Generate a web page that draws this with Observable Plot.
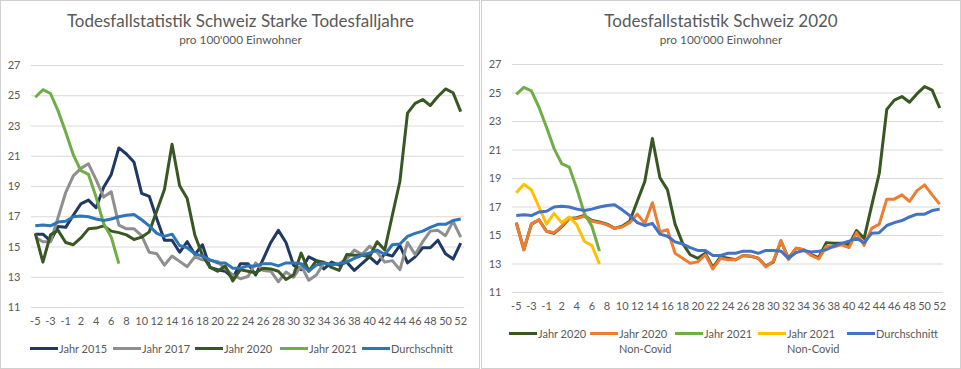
<!DOCTYPE html>
<html><head><meta charset="utf-8">
<script src="https://cdn.jsdelivr.net/npm/d3@7"></script>
<script src="https://cdn.jsdelivr.net/npm/@observablehq/plot@0.6"></script>
<style>
body{margin:0;background:#fff;font-family:Lato,sans-serif;}
#root{position:relative;width:961px;height:369px;overflow:hidden;background:#fff;}
.panel{position:absolute;top:0;height:369px;box-sizing:border-box;border:1px solid #d0d0d0;}
.abs{position:absolute;}
.title{position:absolute;text-align:center;color:#595959;font-size:17px;line-height:17px;white-space:nowrap;}
.sub{position:absolute;text-align:center;color:#595959;font-size:11.8px;line-height:12px;white-space:nowrap;}
.leg{position:absolute;display:flex;align-items:flex-start;color:#595959;font-size:11px;line-height:15px;white-space:nowrap;}
.sw{width:28px;height:3px;margin-top:6px;margin-right:1px;}
</style></head>
<body><div id="root">
<div class="panel" style="left:0;width:480px;"></div>
<div class="panel" style="left:481px;width:480px;"></div>
<div class="title" style="left:0;width:481px;top:12px;">Todesfallstatistik Schweiz Starke Todesfalljahre</div>
<div class="sub" style="left:0;width:481px;top:34px;">pro 100'000 Einwohner</div>
<div class="title" style="left:481px;width:480px;top:12px;">Todesfallstatistik Schweiz 2020</div>
<div class="sub" style="left:481px;width:480px;top:34px;">pro 100'000 Einwohner</div>
<div id="plotL" class="abs" style="left:0;top:50px;"></div>
<div id="plotR" class="abs" style="left:481px;top:50px;"></div>
</div>
<script>
const weeks = [-5,-4,-3,-2,-1,1,2,3,4,5,6,7,8,9,10,11,12,13,14,15,16,17,18,19,20,21,22,23,24,25,26,27,28,29,30,31,32,33,34,35,36,37,38,39,40,41,42,43,44,45,46,47,48,49,50,51,52];
const xTickLabels = [-5,-3,-1,2,4,6,8,10,12,14,16,18,20,22,24,26,28,30,32,34,36,38,40,42,44,46,48,50,52];
const yTickLabels = [11,13,15,17,19,21,23,25,27];

const jahr2015 = [15.85,15.85,15.4,16.35,16.3, 17.1,17.85,18.1,17.6,18.95,19.8,21.55,21.15,20.6,18.55,
  18.35,16.85,15.45,15.45,14.65,15.35,14.5,15.15,13.65,13.5,13.4,12.95,
  13.9,13.9,13.15,14.2,15.3,16.1,15.3,13.8,13.5,14.35,14.1,13.55,14.0,13.8,14.0,13.45,13.9,14.35,13.9,14.55,14.4,15.1,13.95,14.35,14.95,14.95,15.45,14.55,14.2,15.25];
const jahr2017 = [15.65,15.35,15.35,16.95,18.6, 19.7,20.2,20.5,19.45,18.3,18.65,16.45,16.2,16.2,15.75,
  14.65,14.55,13.8,14.4,14.05,13.7,14.35,14.15,14.1,14.05,13.55,13.15,
  12.9,13.05,13.95,13.45,13.4,12.7,13.35,13.0,13.75,12.8,13.15,13.95,13.8,13.9,14.2,14.8,14.5,15.05,14.65,14.0,14.1,13.5,15.3,14.5,15.35,16.05,16.1,15.75,16.7,15.65];
const jahr2020 = [15.9,14.0,15.8,16.1,15.3, 15.15,15.6,16.2,16.25,16.4,16.05,15.95,15.8,15.5,15.65,
  16.0,17.4,18.8,21.8,19.05,18.2,15.8,14.45,13.65,13.4,13.75,12.75,
  13.5,13.4,13.3,13.6,13.55,13.4,12.85,13.15,14.6,13.4,14.1,14.0,13.65,13.45,14.5,14.45,14.45,14.35,15.35,14.8,17.1,19.35,23.85,24.5,24.75,24.35,24.95,25.45,25.2,23.95];
const jahr2020NonCovid = [15.9,14.0,15.8,16.1,15.3, 15.2,15.65,16.2,16.2,16.35,16.0,15.9,15.75,15.5,15.6,
  15.9,16.5,15.85,17.3,15.25,15.4,13.75,13.4,13.05,13.15,13.65,12.65,
  13.4,13.3,13.3,13.6,13.55,13.4,12.8,13.2,14.65,13.3,14.1,14.0,13.6,13.35,14.25,14.2,14.35,14.15,15.2,14.3,15.5,15.8,17.55,17.55,17.85,17.4,18.15,18.55,17.85,17.2];
const jahr2021 = [24.9,25.4,25.15,24.0,22.6, 21.1,20.05,19.8,18.3,16.55,15.65,13.9];
const jahr2021NonCovid = [18.0,18.6,18.2,17.0,15.8, 16.55,15.9,16.3,15.75,14.6,14.3,13.0];
const durchschnitt = [16.4,16.45,16.4,16.65,16.7, 17.0,17.05,17.0,16.85,16.75,16.85,17.0,17.1,17.15,16.8,
  16.4,15.9,15.7,15.85,15.1,14.95,14.55,14.4,14.15,13.95,13.95,13.6,
  13.6,13.75,13.75,13.9,13.9,13.75,13.95,13.95,13.9,13.4,13.8,13.95,13.85,13.9,14.0,14.25,14.45,14.6,14.8,14.5,15.15,15.2,15.7,15.9,16.05,16.3,16.5,16.5,16.75,16.85];

const left = [
  {name:"Jahr 2015", values:jahr2015, color:"#1f3864"},
  {name:"Jahr 2017", values:jahr2017, color:"#8f8f8f"},
  {name:"Jahr 2020", values:jahr2020, color:"#385723"},
  {name:"Jahr 2021", values:jahr2021, color:"#70ad47"},
  {name:"Durchschnitt", values:durchschnitt, color:"#2e75b6"}
];
const right = [
  {name:"Jahr 2020", values:jahr2020, color:"#385723"},
  {name:"Jahr 2020\nNon-Covid", values:jahr2020NonCovid, color:"#ed7d31"},
  {name:"Jahr 2021", values:jahr2021, color:"#70ad47"},
  {name:"Jahr 2021\nNon-Covid", values:jahr2021NonCovid, color:"#ffc000"},
  {name:"Durchschnitt", values:durchschnitt, color:"#4472c4"}
];

function rows(s){ return s.values.map((v,i)=>({week:weeks[i], value:v})); }

function makePlot(series, o){
  return Plot.plot({
    width:o.width, height:o.height,
    marginLeft:31, marginRight:o.mr, marginTop:o.mt, marginBottom:o.mb,
    style:{fontFamily:"Lato, sans-serif", fontSize:"11px", color:"#595959", background:"transparent", overflow:"visible"},
    x:{type:"point", domain:weeks, padding:0.5, axis:null},
    y:{domain:[11,27], axis:null},
    marks:[
      Plot.gridY(yTickLabels, {stroke:"#d9d9d9", strokeOpacity:1, strokeWidth:1}),
      Plot.axisY(yTickLabels, {tickSize:0, tickPadding:11, fill:"#595959", fontSize:11, label:null}),
      Plot.axisX(xTickLabels, {tickSize:0, tickPadding:o.tp, fill:"#595959", fontSize:11, label:null}),
      ...series.map(s=>Plot.line(rows(s), {x:"week", y:"value", stroke:s.color, strokeWidth:3, strokeLinejoin:"round", strokeLinecap:"butt"}))
    ]
  });
}

document.getElementById("plotL").append(makePlot(left, {width:479, height:290, mr:15, mt:15, mb:33, tp:10}));
document.getElementById("plotR").append(makePlot(right, {width:479, height:275, mr:17, mt:14, mb:33, tp:10}));

const root = document.getElementById("root");
function legend(series, xs, top){
  series.forEach((s,i)=>{
    const d = document.createElement("div");
    d.className = "leg";
    d.style.left = xs[i]+"px";
    d.style.top = top+"px";
    const sw = document.createElement("div");
    sw.className = "sw"; sw.style.background = s.color;
    const t = document.createElement("div");
    t.innerHTML = s.name.split("\n").join("<br>");
    d.append(sw, t);
    root.append(d);
  });
}
legend(left, [30,113,195,280,362], 341);
legend(right, [509,590,675,758,847], 326);
</script>
</body></html>
